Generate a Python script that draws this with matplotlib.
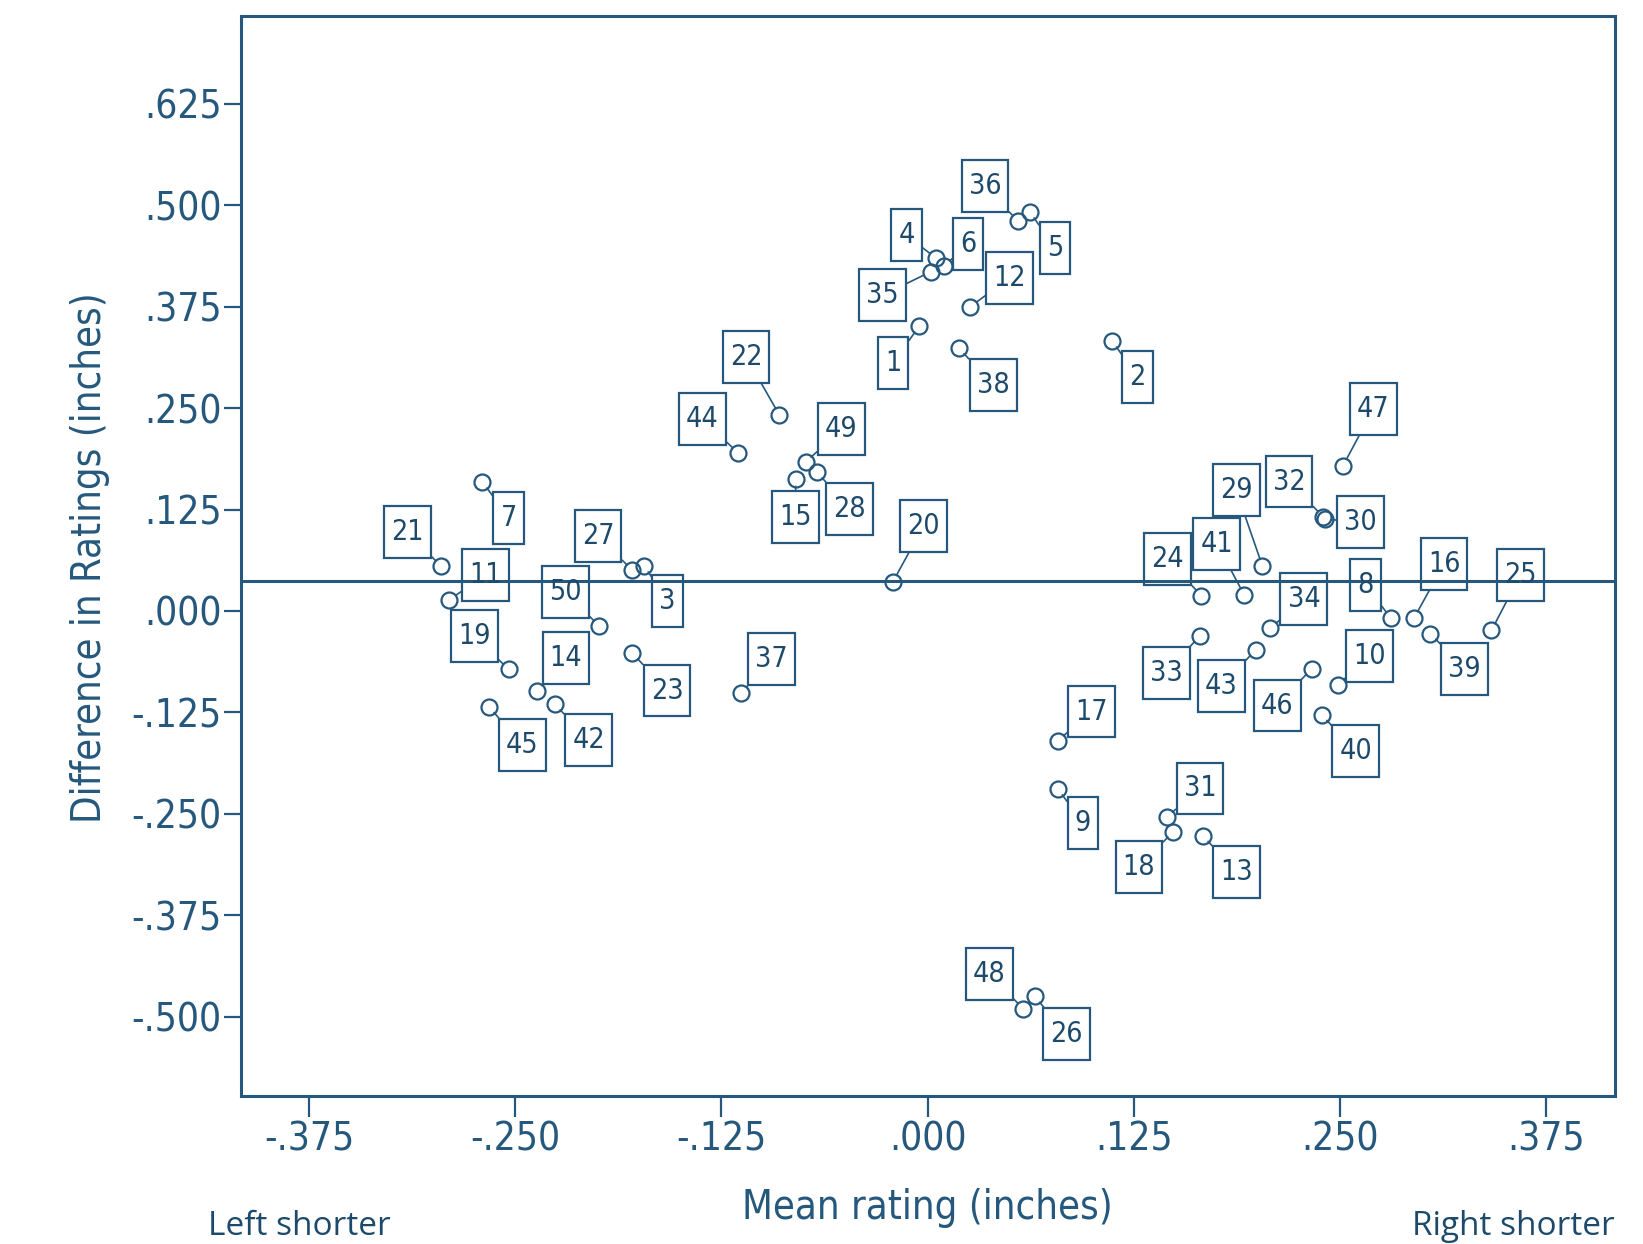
import matplotlib
matplotlib.use("Agg")
import matplotlib.pyplot as plt
from matplotlib import font_manager
from matplotlib.path import Path

case_ids = list(range(1, 51))
mean_rating = [
    -0.005, 0.112, -0.172, 0.005, 0.062, 0.010, -0.270, 0.281, 0.079, 0.249,
    -0.290, 0.026, 0.167, -0.237, -0.080, 0.295, 0.079, 0.149, -0.254, -0.021,
    -0.295, -0.090, -0.179, 0.166, 0.342, 0.065, -0.179, -0.067, 0.203, 0.241,
    0.145, 0.240, 0.165, 0.208, 0.002, 0.055, -0.113, 0.019, 0.305, 0.239,
    0.192, -0.226, 0.199, -0.115, -0.266, 0.233, 0.252, 0.058, -0.074, -0.199,
]
diff_rating = [
    0.351, 0.333, 0.056, 0.435, 0.492, 0.425, 0.159, -0.009, -0.219, -0.091,
    0.014, 0.375, -0.277, -0.099, 0.163, -0.009, -0.160, -0.272, -0.072, 0.036,
    0.055, 0.242, -0.052, 0.019, -0.024, -0.475, 0.050, 0.171, 0.056, 0.113,
    -0.254, 0.116, -0.031, -0.021, 0.418, 0.480, -0.101, 0.324, -0.028, -0.128,
    0.020, -0.115, -0.048, 0.195, -0.118, -0.071, 0.179, -0.490, 0.183, -0.019,
]
mean_difference = 0.037

x_ticks = [-0.375, -0.25, -0.125, 0.0, 0.125, 0.25, 0.375]
y_ticks = [0.625, 0.5, 0.375, 0.25, 0.125, 0.0, -0.125, -0.25, -0.375, -0.5]

# where each id box sits relative to its point (offset points)
label_offsets = {
    1: (-18.9, -26.4), 2: (18.1, -26.4), 3: (17, -25.7), 4: (-21.1, 16.2),
    5: (18.1, -26.4), 6: (17.4, 15.8), 7: (18.9, -25.7), 8: (-18.1, 24.1),
    9: (18.1, -24.9), 10: (22.6, 20.8), 11: (26.1, 17.7), 12: (28.2, 20.8),
    13: (24, -25.9), 14: (21, 24.1), 15: (0, -27.9), 16: (21.7, 39.2),
    17: (24.1, 21.1), 18: (-24.6, -25.2), 19: (-24.9, 23.9), 20: (21.9, 40),
    21: (-24.5, 24.7), 22: (-23.8, 41.5), 23: (24.9, -26.9), 24: (-24.6, 26.2),
    25: (20.8, 39.8), 26: (22.9, -27.2), 27: (-24.7, 24.6), 28: (23.4, -26.4),
    29: (-18.8, 54.2), 30: (25.9, -1.8), 31: (24, 20.6), 32: (-24.7, 25.4),
    33: (-24.1, -26.4), 34: (24.1, 20.7), 35: (-34.7, -16.9), 36: (-23.9, 25.3),
    37: (21.9, 24.1), 38: (24.6, -26.9), 39: (24.5, -25.4), 40: (24.7, -26.2),
    41: (-19.6, 36.7), 42: (24.4, -25.8), 43: (-24.9, -26.3), 44: (-25.7, 24.1),
    45: (24.1, -27.7), 46: (-24.9, -26.6), 47: (21.7, 40.5), 48: (-24.5, 24.9),
    49: (25.7, 24.1), 50: (-24.5, 24.9),
}

col = '#25587c'

# prefer a narrow face if one is installed
names = {f.name for f in font_manager.fontManager.ttflist}
condensed = [f for f in font_manager.fontManager.ttflist
             if f.name == 'DejaVu Sans' and f.stretch == 'condensed']
if 'Liberation Sans Narrow' in names:
    narrow = dict(family='Liberation Sans Narrow')
    scale = 1.0
elif condensed:
    narrow = dict(family='DejaVu Sans', stretch='condensed')
    scale = 0.82
else:
    narrow = dict(family='DejaVu Sans')
    scale = 0.74


def fmt(v):
    return f"{v:.3f}".replace("0.", ".", 1)


def tall_box(x0, y0, width, height, mutation_size):
    # id boxes are taller than wide padding would give
    px = 0.25 * mutation_size
    py = 0.42 * mutation_size
    x1, y1 = x0 + width + px, y0 + height + py
    x0, y0 = x0 - px, y0 - py
    return Path([(x0, y0), (x1, y0), (x1, y1), (x0, y1), (x0, y0)], closed=True)


fig = plt.figure(figsize=(16.43, 12.44), dpi=100)
ax = fig.add_axes([0.1467, 0.119, 0.8363, 0.8681])

ax.plot(mean_rating, diff_rating, 'o', ms=11.5, mfc='none', mec=col, mew=1.6,
        zorder=3)
ax.axhline(mean_difference, color=col, lw=2.2, zorder=2)

for cid, xv, yv in zip(case_ids, mean_rating, diff_rating):
    ax.annotate(
        str(cid), (xv, yv), xytext=label_offsets[cid], textcoords='offset points',
        ha='center', va='center', fontsize=25 * scale, color='#1d4a6b',
        bbox=dict(boxstyle=tall_box, fc='none', ec=col, lw=1.6),
        arrowprops=dict(arrowstyle='-', color=col, lw=1.2, shrinkA=0, shrinkB=5.5),
        zorder=4, **narrow,
    )

ax.set_xlim(-0.4164, 0.4170)
ax.set_ylim(-0.5976, 0.733)
ax.set_xticks(x_ticks)
ax.set_xticklabels([fmt(v) for v in x_ticks], fontsize=34 * scale, color=col, **narrow)
ax.set_yticks(y_ticks)
ax.set_yticklabels([fmt(v) for v in y_ticks], fontsize=34 * scale, color=col, **narrow)
ax.tick_params(axis='x', length=15, width=1.6, color=col, pad=3)
ax.tick_params(axis='y', length=12, width=1.6, color=col, pad=2)
for sp in ax.spines.values():
    sp.set_color(col)
    sp.set_linewidth(2.2)

fig.text(0.5642, 0.0201, 'Mean rating (inches)', ha='center', va='baseline',
         fontsize=35 * scale, color=col, **narrow)
fig.text(0.055, 0.5514, 'Difference in Ratings (inches)', ha='center', va='center',
         rotation=90, fontsize=35 * scale, color=col, **narrow)
fig.text(0.1263, 0.007, 'Left shorter', ha='left', va='baseline',
         fontsize=24, family=['Open Sans', 'DejaVu Sans'], color='#1d4a6b')
fig.text(0.9830, 0.007, 'Right shorter', ha='right', va='baseline',
         fontsize=24, family=['Open Sans', 'DejaVu Sans'], color='#1d4a6b')

fig.savefig('out.png', dpi=100)
